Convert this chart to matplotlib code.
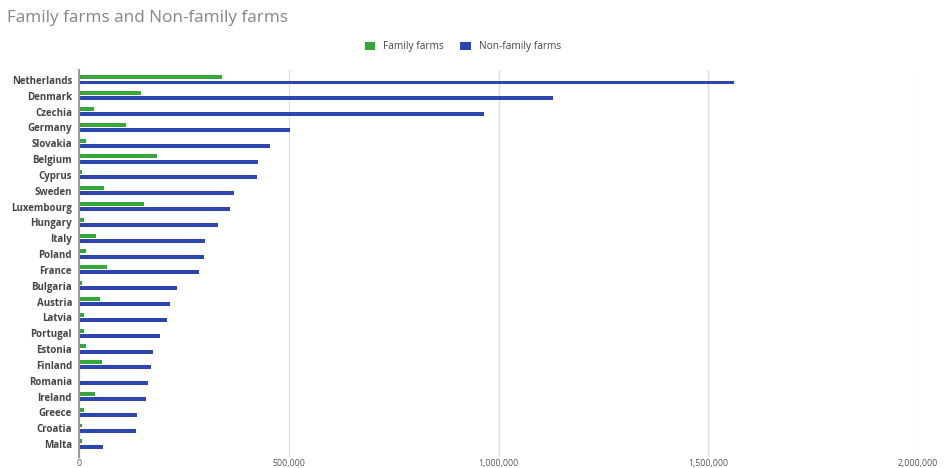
import matplotlib
matplotlib.use("Agg")
import matplotlib.pyplot as plt
import matplotlib.ticker as mticker
import numpy as np

countries = ["Netherlands", "Denmark", "Czechia", "Germany", "Slovakia", "Belgium",
             "Cyprus", "Sweden", "Luxembourg", "Hungary", "Italy", "Poland", "France",
             "Bulgaria", "Austria", "Latvia", "Portugal", "Estonia", "Finland",
             "Romania", "Ireland", "Greece", "Croatia", "Malta"]
family = [340000, 148000, 36000, 111000, 17000, 187000, 7000, 60000, 155000, 13000,
          40000, 17000, 67000, 8000, 50000, 11000, 11000, 17000, 55000, 2000,
          37000, 11000, 8000, 8000]
non_family = [1562000, 1131000, 966000, 502000, 456000, 426000, 424000, 370000,
              361000, 332000, 301000, 299000, 287000, 233000, 216000, 210000,
              192000, 177000, 171000, 164000, 160000, 138000, 137000, 58000]

GREEN = "#35a838"
BLUE = "#2b46b0"

plt.rcParams["font.family"] = ["Open Sans", "DejaVu Sans"]

fig = plt.figure(figsize=(9.47, 4.68), dpi=100)
ax = fig.add_axes([79 / 947, 1 - 457 / 468, (918 - 79) / 947, (457 - 70) / 468])

y = np.arange(len(countries))
ax.barh(y - 0.17, family, height=0.25, color=GREEN, label="Family farms", zorder=3)
ax.barh(y + 0.16, non_family, height=0.25, color=BLUE, label="Non-family farms", zorder=3)

ax.set_xlim(0, 2000000)
ax.set_ylim(len(countries) - 0.18, -0.63)
ax.set_yticks(y)
ax.set_yticklabels(countries, fontsize=7, fontweight="bold", color="#444444")
ax.xaxis.set_major_locator(mticker.MultipleLocator(500000))
ax.xaxis.set_major_formatter(mticker.FuncFormatter(lambda v, p: f"{int(v):,}"))
ax.tick_params(axis="x", labelsize=6.3, labelcolor="#555555", length=0, pad=1.5)
ax.tick_params(axis="y", length=0, pad=5)
ax.grid(axis="x", color="#dddddd", linewidth=1, zorder=0)

for side in ["top", "right", "bottom"]:
    ax.spines[side].set_visible(False)
ax.spines["left"].set_color("#9a9a9a")
ax.spines["left"].set_linewidth(1.5)
ax.spines["left"].set_zorder(4)

fig.text(7 / 947, 1 - 18 / 468, "Family farms and Non-family farms",
         fontsize=12.3, color="#858585", va="center", ha="left")

fig.legend(loc="center", bbox_to_anchor=(463 / 947, 1 - 47 / 468), ncol=2,
           frameon=False, fontsize=7.3, handlelength=1.0, handleheight=0.8,
           columnspacing=1.6, handletextpad=0.8, labelcolor="#444444")

fig.savefig("out.png", dpi=100)
